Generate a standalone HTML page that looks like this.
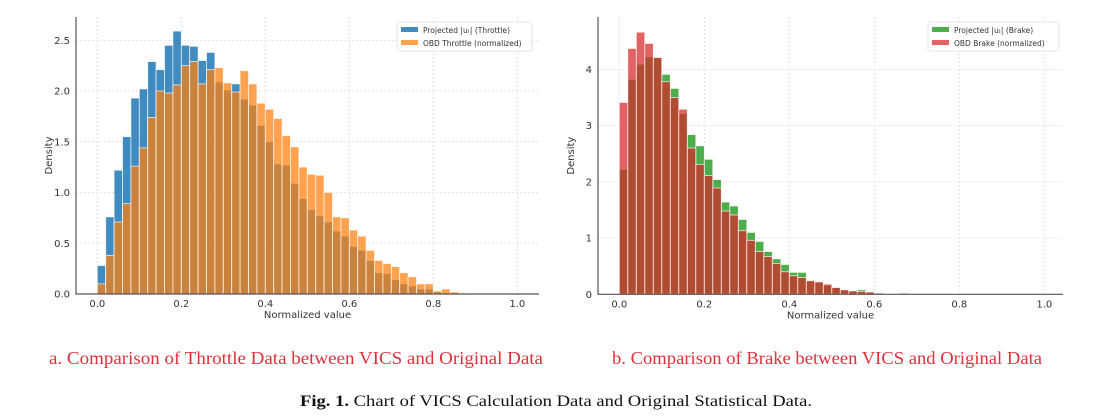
<!DOCTYPE html>
<html><head><meta charset="utf-8"><style>
html,body{margin:0;padding:0;background:#fff;}
svg{display:block;font-family:"DejaVu Sans","Liberation Sans",sans-serif;}
</style></head><body>
<svg id="fig" width="1104" height="420" viewBox="0 0 1104 420" xmlns="http://www.w3.org/2000/svg">
<g id="left"></g>
<g id="right"></g>
<text x="49" y="364" font-family="Liberation Serif, serif" font-size="18" fill="#e0303a" textLength="494" lengthAdjust="spacingAndGlyphs">a.  Comparison of Throttle Data between VICS and Original Data</text>
<text x="612" y="364" font-family="Liberation Serif, serif" font-size="18" fill="#e0303a" textLength="430" lengthAdjust="spacingAndGlyphs">b. Comparison of Brake between VICS and Original Data</text>
<text x="300" y="406" font-family="Liberation Serif, serif" font-size="16" fill="#111" textLength="512" lengthAdjust="spacingAndGlyphs"><tspan font-weight="bold">Fig. 1.</tspan>  Chart of VICS Calculation Data and Original Statistical Data.</text>
</svg>
<script>
const binWidth = 0.02;
const throttleProjected = [0.28,0.76,1.22,1.55,1.93,2.02,2.29,2.21,2.45,2.59,2.45,2.44,2.30,2.38,2.09,2.01,2.07,1.92,1.86,1.66,1.50,1.28,1.27,1.09,0.94,0.83,0.77,0.71,0.62,0.57,0.47,0.43,0.33,0.21,0.20,0.14,0.10,0.08,0.05,0.05,0.02,0.01,0.01,0.005,0.003];
const throttleObd = [0.10,0.38,0.71,0.89,1.26,1.44,1.74,2.00,1.98,2.06,2.25,2.29,2.07,2.21,2.23,2.08,1.99,2.20,2.07,1.88,1.82,1.73,1.56,1.45,1.25,1.18,1.17,1.00,0.76,0.75,0.63,0.57,0.43,0.33,0.30,0.27,0.21,0.17,0.10,0.10,0.03,0.05,0.02,0.01,0.005];
const brakeProjected = [2.22,3.82,4.09,4.22,4.21,3.91,3.66,3.21,2.84,2.64,2.40,2.04,1.64,1.57,1.33,1.10,0.94,0.76,0.63,0.53,0.39,0.39,0.25,0.22,0.16,0.12,0.08,0.06,0.08,0.04,0.03,0.01,0,0];
const brakeObd = [3.41,4.37,4.66,4.46,4.21,3.78,3.50,3.29,2.60,2.31,2.11,1.89,1.48,1.41,1.13,0.96,0.76,0.67,0.55,0.40,0.33,0.30,0.24,0.22,0.18,0.12,0.08,0.06,0.05,0.04,0.02,0.01,0.01,0.02];
const xTicks = [0,0.2,0.4,0.6,0.8,1.0];
const xTickLabels = ["0.0","0.2","0.4","0.6","0.8","1.0"];
const throttleYTicks = [0,0.5,1.0,1.5,2.0,2.5];
const throttleYLabels = ["0.0","0.5","1.0","1.5","2.0","2.5"];
const brakeYTicks = [0,1,2,3,4];
const brakeYLabels = ["0","1","2","3","4"];
const NS="http://www.w3.org/2000/svg";
function mk(parent,tag,attrs,text){const e=document.createElementNS(NS,tag);for(const k in attrs)e.setAttribute(k,attrs[k]);if(text!==undefined)e.textContent=text;parent.appendChild(e);return e;}
function chart(g,cfg){
  const xs=v=>cfg.x0+v*cfg.xk, ys=v=>cfg.y0-v*cfg.yk;
  cfg.xt.forEach((t,i)=>{
    const l=mk(g,'line',{x1:xs(t),x2:xs(t),y1:cfg.top,y2:cfg.y0,stroke:'#d8d8d8','stroke-dasharray':'2,2','stroke-width':0.7});
    
    
    const tl=mk(g,'text',{x:xs(t),y:cfg.y0+13,'font-size':10,fill:'#333','text-anchor':'middle'},cfg.xl[i]);
    
    
  });
  cfg.yt.forEach((t,i)=>{
    const l=mk(g,'line',{x1:cfg.left,x2:cfg.right,y1:ys(t),y2:ys(t),stroke:'#d8d8d8','stroke-dasharray':'2,2','stroke-width':0.7});
    
    
    const tl=mk(g,'text',{x:cfg.left-6,y:ys(t)+3.5,'font-size':10,fill:'#333','text-anchor':'end'},cfg.yl[i]);
    
    
  });
  [[cfg.a,cfg.ca,cfg.oa,'projected-bar'],[cfg.b,cfg.cb,cfg.ob,'obd-bar']].forEach(([arr,col,op,nm])=>{
    arr.forEach((v,i)=>{
      if(v<=0)return;
      const x=xs(i*binWidth), w=binWidth*cfg.xk;
      const r=mk(g,'rect',{x:x,y:ys(v),width:w,height:cfg.y0-ys(v),fill:col,'fill-opacity':op,stroke:'#fff','stroke-width':0.8,'stroke-opacity':0.8});
      
      
    });
  });
  const ax=mk(g,'path',{d:`M${cfg.left} ${cfg.top} V${cfg.y0} H${cfg.right}`,fill:'none',stroke:'#555','stroke-width':1.2});
  
  
  const xl=mk(g,'text',{x:(cfg.left+cfg.right)/2,y:cfg.y0+24,'font-size':10,fill:'#333','text-anchor':'middle'},'Normalized value');
  
  
  const yl=mk(g,'text',{x:0,y:0,'font-size':10,fill:'#333','text-anchor':'middle',transform:`translate(${cfg.left-24},${(cfg.top+cfg.y0)/2}) rotate(-90)`},'Density');
  
  
  const lg=mk(g,'g',{});
  
  
  mk(lg,'rect',{x:cfg.lx,y:22,width:cfg.lw,height:29,fill:'#fff','fill-opacity':0.9,stroke:'#ddd','stroke-width':0.8,rx:2});
  cfg.names.forEach((n,i)=>{
    const e=mk(lg,'g',{});
    
    
    mk(e,'rect',{x:cfg.lx+4,y:27+i*13,width:17,height:5,fill:i?cfg.cb:cfg.ca,'fill-opacity':i?cfg.ob:cfg.oa});
    mk(e,'text',{x:cfg.lx+26,y:33+i*13,'font-size':7.5,fill:'#333'},n);
  });
}
chart(document.getElementById('left'),{x0:97.3,xk:420,y0:294,yk:101.5,top:17,left:76,right:539,
  xt:xTicks,xl:xTickLabels,yt:throttleYTicks,yl:throttleYLabels,a:throttleProjected,b:throttleObd,
  ca:'#1f77b4',oa:0.85,cb:'#ff7f0e',ob:0.72,lx:397,lw:135,names:['Projected |uₜ|  (Throttle)','OBD Throttle (normalized)']});
chart(document.getElementById('right'),{x0:619.3,xk:425,y0:294.3,yk:56.25,top:17,left:598,right:1063,
  xt:xTicks,xl:xTickLabels,yt:brakeYTicks,yl:brakeYLabels,a:brakeProjected,b:brakeObd,
  ca:'#2ca02c',oa:0.85,cb:'#d62728',ob:0.72,lx:928,lw:131,names:['Projected |uₜ| (Brake)','OBD Brake (normalized)']});
</script>
</body></html>
